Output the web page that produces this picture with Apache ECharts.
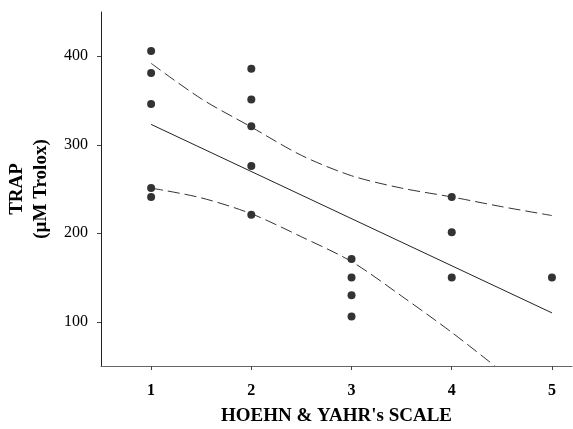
<!DOCTYPE html>
<html>
<head>
<meta charset="utf-8">
<script src="https://cdn.jsdelivr.net/npm/echarts@6/dist/echarts.min.js"></script>
<style>
html,body{margin:0;padding:0;background:#fff;}
#chart{width:573px;height:429px;}
</style>
</head>
<body>
<div id="chart"></div>
<script>
// Data
const xTicks = [1, 2, 3, 4, 5];
const yTicks = [100, 200, 300, 400];
const hoehnYahr = [1, 1, 1, 1, 1, 2, 2, 2, 2, 2, 3, 3, 3, 3, 4, 4, 4, 5];
const trap = [406, 381, 346, 251, 241, 386, 351, 321, 276, 221, 171, 150, 130, 106, 241, 201, 150, 150];
const fitX = [1, 5];
const fitY = [323, 110];
const upperX = [1, 1.5, 2, 2.5, 3, 3.5, 4, 4.5, 5];
const upperY = [392, 352, 320, 288, 265, 251, 241, 230, 220];
const lowerX = [1, 1.5, 2, 2.5, 3, 3.5, 4, 4.43];
const lowerY = [251, 240, 222, 196, 168, 129, 88, 50];

const zip = (a, b) => a.map((v, i) => [v, b[i]]);
const FONT = '"Liberation Serif", "Times New Roman", serif';

const chart = echarts.init(document.getElementById('chart'), null, {renderer: 'canvas'});
chart.setOption({
  animation: false,
  backgroundColor: '#fff',
  grid: {left: 101, right: 1, top: 12, bottom: 63, containLabel: false, outerBoundsMode: 'none'},
  xAxis: {
    type: 'value', min: 0.5, max: 5.2,
    name: "HOEHN & YAHR's SCALE",
    nameLocation: 'middle', nameGap: 41,
    nameTextStyle: {fontFamily: FONT, fontWeight: 'bold', fontSize: 19, color: '#000'},
    splitLine: {show: false},
    axisLine: {onZero: false, lineStyle: {color: '#666', width: 1}},
    axisTick: {show: true, customValues: xTicks, length: 4, lineStyle: {color: '#444'}},
    axisLabel: {customValues: xTicks, margin: 17, fontFamily: FONT, fontWeight: 'bold', fontSize: 16, color: '#000'}
  },
  yAxis: {
    type: 'value', min: 50, max: 450,
    name: 'TRAP\n(µM Trolox)',
    nameLocation: 'middle', nameGap: 46, nameRotate: 90,
    nameTextStyle: {fontFamily: FONT, fontWeight: 'bold', fontSize: 19, color: '#000', lineHeight: 24},
    splitLine: {show: false},
    axisLine: {show: true, onZero: false, lineStyle: {color: '#222', width: 1}},
    axisTick: {show: true, customValues: yTicks, length: 4, lineStyle: {color: '#444'}},
    axisLabel: {customValues: yTicks, margin: 13, fontFamily: FONT, fontSize: 16, color: '#000'}
  },
  series: [
    {
      type: 'line', data: zip(upperX, upperY), smooth: 0.3, symbol: 'none', clip: true,
      lineStyle: {color: '#333', width: 1, type: [12, 5]}
    },
    {
      type: 'line', data: zip(lowerX, lowerY), smooth: 0.3, symbol: 'none', clip: true,
      lineStyle: {color: '#333', width: 1, type: [12, 5]}
    },
    {
      type: 'line', data: zip(fitX, fitY), symbol: 'none',
      lineStyle: {color: '#222', width: 1}
    },
    {
      type: 'scatter', data: zip(hoehnYahr, trap), symbol: 'circle', symbolSize: 8,
      itemStyle: {color: '#000'}
    }
  ]
});
</script>
</body>
</html>
